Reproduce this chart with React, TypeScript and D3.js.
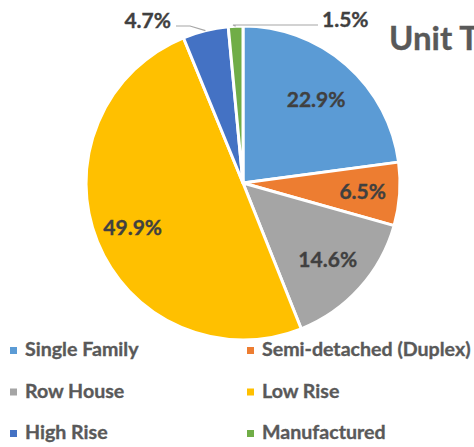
import React from 'react';
import * as d3 from 'd3';

const categories = ['Single Family', 'Semi-detached (Duplex)', 'Row House', 'Low Rise', 'High Rise', 'Manufactured'];
const shares = [22.9, 6.5, 14.6, 49.9, 4.7, 1.5];
const colors = ['#5B9BD5', '#ED7D31', '#A5A5A5', '#FFC000', '#4472C4', '#70AD47'];
const title = 'Unit Type';

const width = 474;
const height = 447;
const cx = 243;
const cy = 183;
const radius = 157;
// best-fit label distance from the centre, per slice
const labelRadius = [111, 120, 114, 119, 0, 0];
const font = 'Lato, "Open Sans", sans-serif';

// slices that get their label outside with a leader line
const outside: Record<number, { elbowX: number; elbowY: number; endX: number; anchor: string }> = {
  4: { elbowX: 190, elbowY: 26, endX: 176, anchor: 'end' },
  5: { elbowX: 233, elbowY: 25, endX: 318, anchor: 'start' },
};

const pie = d3.pie<number>().sort(null).value(d => d);
const arcs = pie(shares);
const slice = d3.arc<d3.PieArcDatum<number>>().innerRadius(0).outerRadius(radius);

const legendX = d3.scalePoint<number>().domain([0, 1]).range([10, 247]);
const legendY = d3.scalePoint<number>().domain([0, 1, 2]).range([356, 439]);

const bold = { fontFamily: font, fontWeight: 'bold' as const, strokeWidth: 0.35 };

export default function App() {
  return (
    <svg width={width} height={height} style={{ position: 'absolute', left: 0, top: 0 }}>
      <rect width={width} height={height} fill="white" />
      <text x={389} y={50} {...bold} fontSize={33} fill="#595959" stroke="#595959">{title}</text>
      <g transform={`translate(${cx},${cy})`}>
        {arcs.map((a, i) => (
          <path key={i} d={slice(a) || ''} fill={colors[i]} stroke="white" strokeWidth={3} strokeLinejoin="round" />
        ))}
        {arcs.map((a, i) => {
          const label = `${shares[i].toFixed(1)}%`;
          const o = outside[i];
          if (o) {
            const mid = (a.startAngle + a.endAngle) / 2;
            const px = Math.sin(mid) * radius;
            const py = -Math.cos(mid) * radius;
            const ex = o.elbowX - cx, ey = o.elbowY - cy, tx = o.endX - cx;
            return (
              <g key={i}>
                <polyline points={`${px},${py} ${ex},${ey} ${tx},${ey}`} fill="none" stroke="#A6A6A6" strokeWidth={1.2} />
                <text x={o.anchor === 'end' ? tx - 5 : tx + 4} y={ey + 2} textAnchor={o.anchor} {...bold} fontSize={21} fill="#404040" stroke="#404040">{label}</text>
              </g>
            );
          }
          const [lx, ly] = d3.arc<d3.PieArcDatum<number>>()
            .innerRadius(labelRadius[i]).outerRadius(labelRadius[i]).centroid(a);
          return (
            <text key={i} x={lx} y={ly} dy="0.35em" textAnchor="middle" {...bold} fontSize={21} fill="#404040" stroke="#404040">{label}</text>
          );
        })}
      </g>
      {categories.map((c, i) => {
        const x = legendX(i % 2) as number;
        const y = legendY(Math.floor(i / 2)) as number;
        return (
          <g key={c}>
            <rect x={x} y={y - 9} width={7} height={7} fill={colors[i]} />
            <text x={x + 15} y={y} {...bold} fontSize={19.6} fill="#595959" stroke="#595959">{c}</text>
          </g>
        );
      })}
    </svg>
  );
}
